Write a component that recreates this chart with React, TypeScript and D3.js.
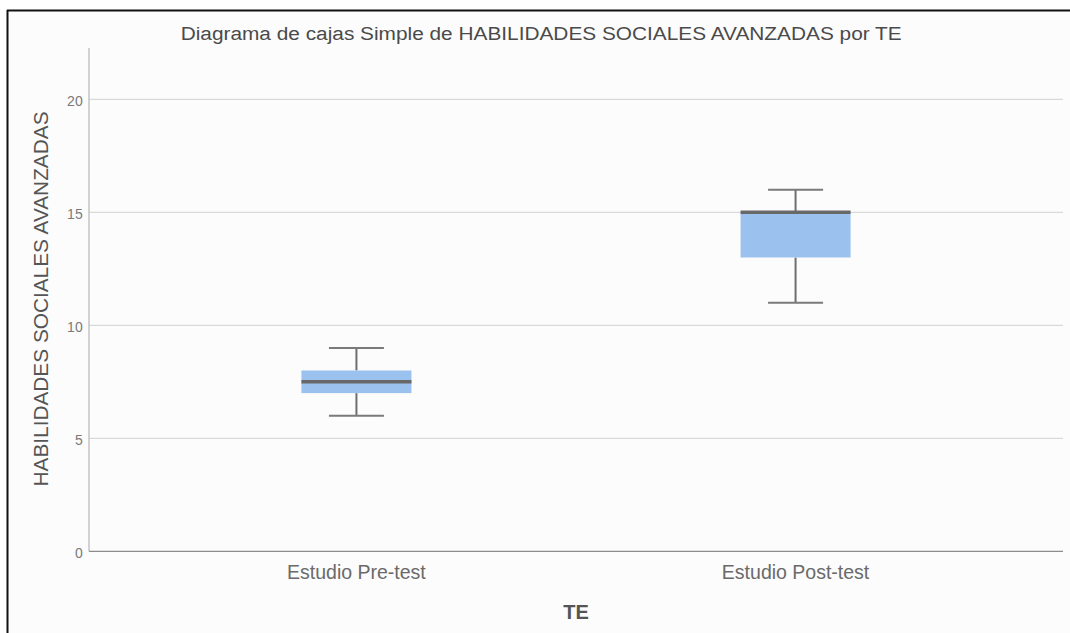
import React from "react";
import * as d3 from "d3";

const categories = ["Estudio Pre-test", "Estudio Post-test"];
const whiskerLow = [6, 11];
const q1 = [7, 13];
const median = [7.5, 15];
const q3 = [8, 15];
const whiskerHigh = [9, 16];
const yTicks = [0, 5, 10, 15, 20];

const W = 1070;
const H = 633;
const left = 89;
const right = 1063;
const bottom = 551.3;
const top = 48;

export default function App() {
  const y = d3.scaleLinear().domain([0, 20]).range([bottom, 99.3]);
  const yMax = y.invert(top);
  const x = d3.scalePoint<string>().domain(categories).range([left, right]).padding(0.609);
  const boxW = 110;
  const capW = 55;
  const font = "'Liberation Sans', Arial, sans-serif";
  return (
    <svg width={W} height={H} style={{ position: "absolute", left: 0, top: 0, display: "block" }}>
      <rect x={0} y={0} width={W} height={H} fill="#ffffff" />
      <rect x={8} y={10} width={W - 8} height={H - 10} fill="#fcfcfc" />
      <line x1={7} x2={W} y1={10.5} y2={10.5} stroke="#111" strokeWidth={2} />
      <line x1={7.5} x2={7.5} y1={10} y2={H} stroke="#111" strokeWidth={2} />
      <text x={180.7} y={39.5} textLength={721} lengthAdjust="spacingAndGlyphs" fontFamily={font} fontSize={19.2} fill="#4a4a4a">
        Diagrama de cajas Simple de HABILIDADES SOCIALES AVANZADAS por TE
      </text>
      {yTicks.filter((t) => t > 0).map((t) => (
        <line key={"g" + t} x1={left} x2={right} y1={y(t)} y2={y(t)} stroke="#d9d9d9" strokeWidth={1.3} />
      ))}
      {yTicks.map((t) => (
        <text key={"t" + t} x={82.7} y={y(t) + 6.5} textAnchor="end" fontFamily={font} fontSize={14} fill="#7a7a7a">
          {t}
        </text>
      ))}
      <line x1={left} x2={left} y1={y(yMax)} y2={bottom} stroke="#c4c4c4" strokeWidth={1.5} />
      <line x1={left} x2={right} y1={bottom} y2={bottom} stroke="#8c8c8c" strokeWidth={1.3} />
      {categories.map((c, i) => {
        const cx = x(c) as number;
        return (
          <g key={c}>
            <line x1={cx} x2={cx} y1={y(whiskerHigh[i])} y2={y(q3[i])} stroke="#6e6e6e" strokeWidth={2} />
            <line x1={cx} x2={cx} y1={y(q1[i])} y2={y(whiskerLow[i])} stroke="#6e6e6e" strokeWidth={2} />
            <line x1={cx - capW / 2} x2={cx + capW / 2} y1={y(whiskerHigh[i])} y2={y(whiskerHigh[i])} stroke="#7a7a7a" strokeWidth={2} />
            <line x1={cx - capW / 2} x2={cx + capW / 2} y1={y(whiskerLow[i])} y2={y(whiskerLow[i])} stroke="#7a7a7a" strokeWidth={2} />
            <rect x={cx - boxW / 2} y={y(q3[i])} width={boxW} height={y(q1[i]) - y(q3[i])} fill="#9bc1ee" />
            <line x1={cx - boxW / 2} x2={cx + boxW / 2} y1={y(median[i])} y2={y(median[i])} stroke="#686868" strokeWidth={3.5} />
            <text x={cx} y={578.5} textAnchor="middle" fontFamily={font} fontSize={19.5} fill="#6a6a6a">
              {c}
            </text>
          </g>
        );
      })}
      <text x={576} y={619} textAnchor="middle" fontFamily={font} fontSize={20} fontWeight="bold" fill="#555">
        TE
      </text>
      <text
        transform={`translate(47.7, 299) rotate(-90)`}
        textAnchor="middle"
        textLength={375}
        lengthAdjust="spacingAndGlyphs"
        fontFamily={font}
        fontSize={19.5}
        fill="#555"
      >
        HABILIDADES SOCIALES AVANZADAS
      </text>
    </svg>
  );
}
